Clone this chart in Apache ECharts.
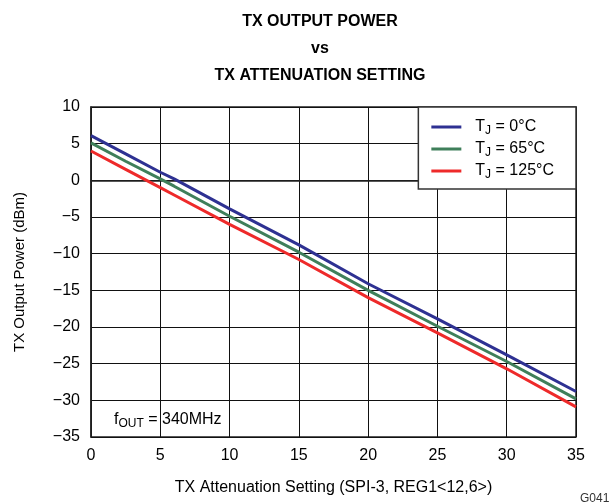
<!DOCTYPE html>
<html>
<head>
<meta charset="utf-8">
<script src="https://cdn.jsdelivr.net/npm/echarts@6/dist/echarts.min.js"></script>
<style>
  html, body { margin: 0; padding: 0; background: #fff; }
  #chart { width: 610px; height: 502px; }
</style>
</head>
<body>
<div id="chart"></div>
<script>
// Attenuation setting (SPI-3, REG1<12,6>) sample points
const attenuation = [0, 2.5, 5, 6, 10, 15, 20, 25, 30, 35];

// TX output power (dBm) at each junction temperature
const powerTj0   = [6.1, 3.6, 1.1, 0.2, -3.9, -8.8, -14.1, -18.9, -23.8, -28.8];
const powerTj65  = [5.1, 2.6, 0.2, -0.8, -4.9, -9.8, -15.0, -19.9, -24.7, -29.8];
const powerTj125 = [4.0, 1.5, -1.0, -2.0, -6.0, -10.8, -16.0, -20.8, -25.7, -30.9];

const seriesNames = ['0°C', '65°C', '125°C'];
const seriesColors = ['#2E3192', '#3F7F5A', '#EE2A2A'];

const xTicks = [0, 5, 10, 15, 20, 25, 30, 35];
const yTicks = [-35, -30, -25, -20, -15, -10, -5, 0, 5, 10];

const FONT = '"Liberation Sans", Arial, sans-serif';
const pair = (xs, ys) => xs.map((x, i) => [x, ys[i]]);
const minus = v => String(v).replace('-', '\u2212');

const chart = echarts.init(document.getElementById('chart'), null, { renderer: 'canvas' });

chart.setOption({
  backgroundColor: '#fff',
  animation: false,
  textStyle: { fontFamily: FONT },
  title: {
    text: 'TX OUTPUT POWER\nvs\nTX ATTENUATION SETTING',
    left: 315,
    textAlign: 'center',
    top: 3,
    textStyle: { fontFamily: FONT, fontSize: 16, fontWeight: 'bold', color: '#000', lineHeight: 27 }
  },
  grid: {
    left: 91, right: 34, top: 107, bottom: 65,
    show: true, borderColor: '#222', borderWidth: 1.5, backgroundColor: 'transparent'
  },
  legend: {
    orient: 'vertical',
    right: 34,
    top: 107,
    padding: [10, 22, 8, 13],
    itemGap: 2,
    itemWidth: 30,
    itemHeight: 3,
    icon: 'rect',
    backgroundColor: '#fff',
    borderColor: '#333',
    borderWidth: 1.5,
    borderRadius: 0,
    data: seriesNames,
    formatter: name => '{t|T}{s|J}{t| = ' + name + '}',
    textStyle: {
      padding: [0, 0, 0, 9],
      rich: {
        t: { fontFamily: FONT, fontSize: 16, color: '#000', lineHeight: 20 },
        s: { fontFamily: FONT, fontSize: 12, color: '#000', lineHeight: 20, padding: [8, 0, 0, 0] }
      }
    }
  },
  xAxis: {
    type: 'value',
    min: 0, max: 35, interval: 5,
    name: 'TX Attenuation Setting (SPI-3, REG1<12,6>)',
    nameLocation: 'middle',
    nameGap: 43,
    nameTextStyle: { fontFamily: FONT, fontSize: 16, color: '#000' },
    axisLine: { show: true, lineStyle: { color: '#222', width: 1.5 } },
    axisTick: { show: false },
    axisLabel: {
      margin: 11, fontFamily: FONT, fontSize: 16, color: '#000',
      customValues: xTicks
    },
    splitLine: { show: true, lineStyle: { color: '#111', width: 1 } }
  },
  yAxis: {
    type: 'value',
    min: -35, max: 10, interval: 5,
    name: 'TX Output Power (dBm)',
    nameLocation: 'middle',
    nameGap: 64,
    nameTextStyle: { fontFamily: FONT, fontSize: 15, color: '#000' },
    axisLine: { show: true, lineStyle: { color: '#222', width: 1.5 } },
    axisTick: { show: false },
    axisLabel: {
      margin: 11, fontFamily: FONT, fontSize: 16, color: '#000',
      customValues: yTicks,
      formatter: v => minus(v)
    },
    splitLine: { show: true, lineStyle: { color: '#111', width: 1 } }
  },
  series: [powerTj0, powerTj65, powerTj125].map((vals, i) => ({
    name: seriesNames[i],
    type: 'line',
    data: pair(attenuation, vals),
    showSymbol: false,
    symbol: 'none',
    lineStyle: { color: seriesColors[i], width: 3 },
    itemStyle: { color: seriesColors[i] },
    z: 5 - i
  })),
  graphic: [
    {
      type: 'text',
      left: 114,
      top: 410,
      style: {
        text: '{t|f}{s|OUT}{t| = 340MHz}',
        rich: {
          t: { fontFamily: FONT, fontSize: 16, fill: '#000', lineHeight: 20 },
          s: { fontFamily: FONT, fontSize: 12, fill: '#000', lineHeight: 20, padding: [8, 0, 0, 0] }
        }
      }
    },
    {
      type: 'text',
      left: 580,
      top: 493,
      style: { text: 'G041', fontFamily: FONT, fontSize: 12, fill: '#333' }
    }
  ]
});
</script>
</body>
</html>
